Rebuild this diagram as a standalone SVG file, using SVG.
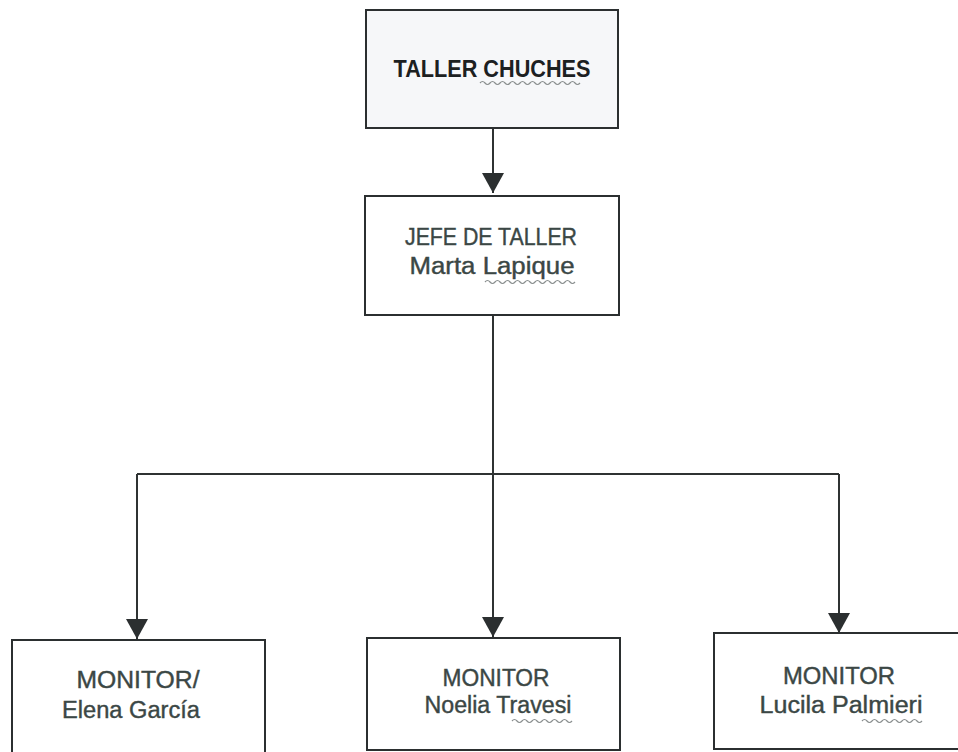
<svg xmlns="http://www.w3.org/2000/svg" width="958" height="752" viewBox="0 0 958 752">
<defs>
<style>
.box{fill:#ffffff;stroke:#2b2f30;stroke-width:2}
.top{fill:#f6f7f9}
.t{font-family:"Liberation Sans",Arial,sans-serif;font-size:23px;fill:#3b4745;text-anchor:middle;stroke:#3b4745;stroke-width:0.4}
.b{font-weight:bold;fill:#1c2021;stroke:none;font-size:24px}
.c{fill:none;stroke:#2f3333;stroke-width:2}
.sq{fill:none;stroke:#8a8f8f;stroke-width:1.2}
</style>
<marker id="ah2" viewBox="0 0 20 22" refX="20" refY="11" markerWidth="20" markerHeight="22" markerUnits="userSpaceOnUse" orient="auto">
<path d="M0,0 L20,11 L0,22 Z" fill="#2b2f30"/>
</marker>
</defs>
<rect width="958" height="752" fill="#ffffff"/>
<g id="connectors">
<path class="c" d="M493,128 V193" marker-end="url(#ah2)"/>
<path class="c" d="M493,315 V474 V637" marker-end="url(#ah2)"/>
<path class="c" d="M137,474 H839"/>
<path class="c" d="M137,474 V639" marker-end="url(#ah2)"/>
<path class="c" d="M839,474 V633" marker-end="url(#ah2)"/>
</g>
<g id="n-taller">
<rect class="box top" x="366" y="10" width="252" height="118"/>
<text class="t b" x="492" y="77" textLength="197" lengthAdjust="spacingAndGlyphs">TALLER CHUCHES</text>
<path class="sq" d="M480,83 q2.5,-3 5,0 t5,0 t5,0 t5,0 t5,0 t5,0 t5,0 t5,0 t5,0 t5,0 t5,0 t5,0 t5,0 t5,0 t5,0 t5,0 t5,0 t5,0 t5,0 t5,0"/>
</g>
<g id="n-jefe">
<rect class="box" x="365" y="196" width="254" height="119"/>
<text class="t" x="491" y="245" textLength="172" lengthAdjust="spacingAndGlyphs">JEFE DE TALLER</text>
<text class="t" x="492" y="274" textLength="165" lengthAdjust="spacingAndGlyphs">Marta Lapique</text>
<path class="sq" d="M485,282 q2.5,-3 5,0 t5,0 t5,0 t5,0 t5,0 t5,0 t5,0 t5,0 t5,0 t5,0 t5,0 t5,0 t5,0 t5,0 t5,0 t5,0 t5,0 t5,0"/>
</g>
<g id="n-elena">
<rect class="box" x="12" y="640" width="253" height="116"/>
<text class="t" x="138" y="688" textLength="123" lengthAdjust="spacingAndGlyphs">MONITOR/</text>
<text class="t" x="131" y="718" textLength="138" lengthAdjust="spacingAndGlyphs">Elena García</text>
</g>
<g id="n-noelia">
<rect class="box" x="367" y="638" width="253" height="112"/>
<text class="t" x="496" y="686" textLength="107" lengthAdjust="spacingAndGlyphs">MONITOR</text>
<text class="t" x="498" y="713" textLength="147" lengthAdjust="spacingAndGlyphs">Noelia Travesi</text>
<path class="sq" d="M512,721 q2.5,-3 5,0 t5,0 t5,0 t5,0 t5,0 t5,0 t5,0 t5,0 t5,0 t5,0 t5,0 t5,0"/>
</g>
<g id="n-lucila">
<rect class="box" x="714" y="633" width="260" height="116"/>
<text class="t" x="839" y="684" textLength="112" lengthAdjust="spacingAndGlyphs">MONITOR</text>
<text class="t" x="841" y="713" textLength="163" lengthAdjust="spacingAndGlyphs">Lucila Palmieri</text>
<path class="sq" d="M862,721 q2.5,-3 5,0 t5,0 t5,0 t5,0 t5,0 t5,0 t5,0 t5,0 t5,0 t5,0 t5,0 t5,0"/>
</g>
</svg>
